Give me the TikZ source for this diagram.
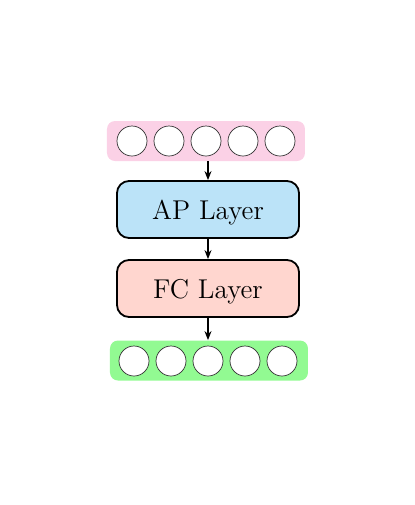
\documentclass[tikz,border=0pt]{standalone}
\usetikzlibrary{arrows.meta}
\definecolor{inpink}{RGB}{251,209,230}
\definecolor{apblue}{RGB}{187,227,248}
\definecolor{fcsalmon}{RGB}{255,214,207}
\definecolor{outgreen}{RGB}{146,250,146}
\tikzset{
  rowbox/.style={draw=none, rounded corners=4pt, minimum width=99pt, minimum height=20pt, inner sep=0pt},
  neuron/.style={circle, draw=black!80, line width=0.35pt, fill=white, minimum size=15pt, inner sep=0pt},
  layerbox/.style={draw=black, line width=0.9pt, rounded corners=6pt, minimum width=91pt, minimum height=28.5pt, inner sep=0pt, text depth=0pt, font=\fontsize{13.6}{16}\selectfont},
  conn/.style={-{Stealth[length=4.5pt,width=3.5pt]}, line width=0.7pt}
}
\begin{document}
\begin{tikzpicture}[x=0.5pt,y=-0.5pt]
\useasboundingbox (0,0) rectangle (415,505);
\node[rowbox, fill=inpink] (in) at (206,141) {};
\foreach \i/\x in {1/132,2/169,3/206,4/243,5/280}
  \node[neuron] (i\i) at (\x,141) {};
\node[layerbox, fill=apblue] (ap) at (208,209.5) {AP Layer};
\node[layerbox, fill=fcsalmon] (fc) at (208,288.5) {FC Layer};
\node[rowbox, fill=outgreen] (out) at (209,360.5) {};
\foreach \i/\x in {1/134,2/171,3/208,4/245,5/282}
  \node[neuron] (o\i) at (\x,361) {};
\draw[conn] (in.south -| ap.north) -- (ap.north);
\draw[conn] (ap) -- (fc);
\draw[conn] (fc.south) -- (fc.south |- out.north);
\end{tikzpicture}
\end{document}
